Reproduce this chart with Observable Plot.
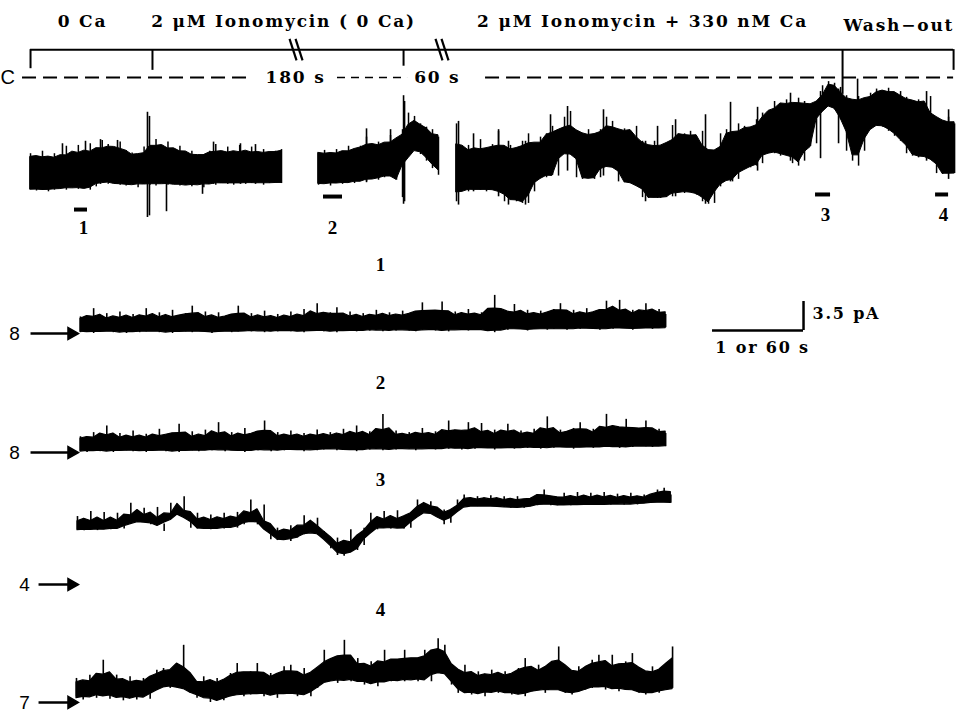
<!DOCTYPE html>
<html><head><meta charset="utf-8">
<script src="https://cdn.jsdelivr.net/npm/d3@7"></script>
<script src="https://cdn.jsdelivr.net/npm/@observablehq/plot@0.6"></script>
<style>html,body{margin:0;padding:0;background:#fff;}#chart{width:956px;height:712px;}</style>
</head><body><div id="chart"></div>
<script>
// ---------------- DATA ----------------
// Top record: current below the closed level C (pA), envelope (upper = smaller amplitude, lower = larger)
const segATop = [9.2,9.7,8.9,9.8,9.2,9.7,8.3,9.3,8.2,9.2,8.0,8.9,7.6,8.1,8.6,7.8,8.8,9.1,9.5,8.4,8.4,7.5,8.4,7.8,8.8,8.3,9.1,8.9,9.5,9.3,8.9,8.1,9.2,8.4,9.2,8.2,9.1,8.4,9.2,8.7,9.1,8.9,8.7];
const segABot = [13.5,13.7,13.5,13.8,13.6,13.4,13.6,13.3,13.5,13.4,13.6,13.2,12.6,12.9,12.8,13.0,13.1,12.9,13.3,12.8,13.0,13.1,12.8,13.0,12.9,13.1,13.0,13.2,12.9,13.3,12.8,13.0,12.7,12.9,13.0,12.7,12.9,12.8,12.7,13.0,12.8,12.7,12.8];
const segBTop = [9.2,8.8,9.3,8.7,9.1,8.3,8.8,8.3,7.2,8.3,7.8,8.1,7.0,7.7,6.3,4.3,4.7,5.6,6.0,6.3,7.2];
const segBBot = [13.0,12.8,13.1,12.7,12.9,12.7,12.8,12.5,12.7,12.2,12.4,12.1,11.8,12.4,14.5,9.2,8.7,9.3,10.1,11.0,11.8];
const segCTop = [5.6,8.9,8.2,8.9,7.5,8.9,8.1,6.5,8.7,8.2,
  8.8,7.7,6.8,8.3,7.2,6.8,5.9,6.8,4.8,4.1,
  6.5,6.9,6.3,7.1,6.3,4.8,5.3,6.5,6.2,6.5,
  5.9,7.7,8.4,7.7,8.4,8.1,5.8,7.1,6.8,6.5,
  7.2,6.5,8.9,9.3,6.8,6.3,6.9,5.6,5.9,6.3,
  5.1,4.3,4.1,2.9,3.3,2.7,3.3,2.5,2.9,3.4,
  2.9,1.0,0.5,0.7,1.2,2.2,2.9,2.3,2.7,1.9,
  1.4,1.7,1.3,1.9,1.7,2.4,2.9,2.7,3.1,2.3,
  5.1,5.3,4.8,5.6];
const segCBot = [15.0,13.5,13.8,13.5,13.6,13.8,13.5,13.8,15.0,14.7,
  15.0,15.2,15.2,13.8,11.9,12.1,11.8,11.9,8.9,8.7,
  12.1,12.3,12.2,12.3,12.1,10.5,10.7,12.6,12.7,12.8,
  13.0,14.5,14.6,14.5,14.6,14.5,14.4,13.8,14.0,13.8,
  14.2,15.0,15.3,15.2,13.2,12.3,12.6,12.3,11.1,10.9,
  10.7,10.4,8.9,9.2,9.5,9.2,10.4,10.7,10.1,8.3,
  8.0,3.5,3.4,3.9,5.1,8.9,10.1,10.7,8.9,6.3,
  5.7,6.0,6.5,7.1,7.7,9.2,9.5,9.7,9.5,9.9,
  11.6,11.7,11.6,11.6];
// display time (units of the scale bar, 60 s) of each top segment: start, end
const segAT = [0.330, 3.088];
const segBT = [3.495, 4.813];
const segCT = [5.011, 10.484];
// brief spikes in the top record
const spikeT  = [0.681,0.934,1.099,1.286,1.615,1.637,1.824,2.220,2.341,2.637,2.802,4.022,4.286,4.429,4.440,5.033,5.198,5.473,5.582,5.769,6.044,6.231,6.626,7.088,7.220,7.418,7.747,8.022,8.319,8.681,9.011,9.209,9.418,10.176,10.418];
const spikeHi = [8.0,7.7,7.5,7.6,4.2,4.7,11.9,12.6,7.8,8.0,8.1,6.2,6.3,2.2,2.9,5.3,6.8,6.3,7.7,7.7,4.5,3.5,3.9,7.7,5.9,5.1,4.5,3.0,3.6,1.9,1.7,1.4,0.2,1.7,3.9];
const spikeLo = [13.2,13.2,12.9,12.9,16.9,16.7,16.2,14.1,12.9,12.9,12.9,12.6,11.9,15.3,15.0,15.4,13.8,14.4,15.4,15.4,11.9,11.3,11.9,15.0,14.6,14.4,15.3,12.6,11.3,10.1,9.8,8.0,8.9,10.1,12.3];

// Expanded records 1-4: current above the arrow level (pA), envelope
const trace1Top = [2.0,1.6,3.0,1.7,2.4,1.5,2.6,1.8,2.3,1.6,3.0,1.8,2.5,1.7,2.8,1.6,2.4,3.3,1.8,2.6,1.7,2.5,1.6,2.3,3.3,1.8,2.4,1.7,2.7,1.6,2.3,1.8,2.6,1.7,2.9,1.9,3.6,1.8,2.5,3.1,1.8,2.6,1.9,2.4,1.8,2.8,2.0,2.5,1.9,2.7,2.0,2.6,3.7,2.1,2.7,3.8,2.0,2.6,2.1,2.9,2.0,2.5,2.2,4.6,2.6,2.1,3.5,2.2,2.8,2.1,2.7,2.2,2.9,3.6,2.2,2.8,2.1,3.0,2.2,2.7,3.9,2.3,4.0,2.2,2.8,2.3,3.6,2.4,2.9,2.3];
const trace1Bot = [0.1,0.3,0.0,0.2,0.3,0.1,0.2,0.0,0.3,0.1,0.2,0.3,0.1,0.2,0.0,0.3,0.2,0.1,0.3,0.2,0.0,0.2,0.3,0.1,0.2,0.3,0.2,0.4,0.1,0.3,0.2,0.4,0.2,0.3,0.1,0.3,0.4,0.2,0.3,0.1,0.4,0.3,0.2,0.4,0.3,0.5,0.2,0.4,0.3,0.5,0.3,0.2,0.4,0.5,0.3,0.4,0.2,0.5,0.4,0.3,0.5,0.4,0.3,0.1,0.5,0.4,0.6,0.5,0.3,0.5,0.6,0.4,0.5,0.6,0.4,0.6,0.5,0.7,0.5,0.4,0.6,0.5,0.7,0.6,0.4,0.6,0.7,0.5,0.6,0.7];
const trace2Top = [1.9,1.5,2.4,1.6,3.2,1.7,2.3,1.5,2.6,1.6,2.2,1.7,2.8,1.6,2.3,3.4,1.7,2.5,1.6,2.7,1.8,3.6,1.7,2.4,1.8,2.9,1.7,2.5,3.8,1.9,2.4,1.7,2.6,1.8,2.3,1.7,2.7,1.8,2.4,1.9,2.8,1.8,3.2,2.0,2.5,1.9,4.6,2.0,2.6,1.9,2.4,2.0,2.9,1.9,2.5,2.1,3.8,2.0,2.6,3.6,2.1,3.5,2.0,2.7,2.1,3.4,2.2,2.6,2.0,2.8,2.1,4.3,2.2,2.7,2.1,2.9,3.6,2.2,2.8,2.3,4.6,2.4,3.0,4.0,2.3,2.9,3.8,2.4,2.8,2.3];
const trace2Bot = [0.2,0.0,0.3,0.1,0.2,0.0,0.3,0.2,0.1,0.3,0.0,0.2,0.3,0.1,0.2,0.0,0.3,0.2,0.1,0.3,0.2,0.4,0.1,0.3,0.2,0.0,0.3,0.2,0.4,0.1,0.3,0.2,0.4,0.3,0.1,0.4,0.2,0.3,0.5,0.2,0.4,0.3,0.1,0.4,0.3,0.5,0.2,0.4,0.3,0.5,0.4,0.2,0.5,0.4,0.3,0.5,0.4,0.6,0.3,0.5,0.4,0.6,0.5,0.3,0.6,0.5,0.4,0.6,0.5,0.7,0.4,0.6,0.5,0.7,0.6,0.4,0.7,0.6,0.5,0.7,0.6,0.8,0.5,0.7,0.6,0.8,0.7,0.6,0.8,0.7];
const trace3Top = [8.2,7.2,8.8,7.2,8.7,7.3,8.6,7.4,9.8,8.3,9.2,7.9,9.3,7.3,9.8,9.1,10.6,7.6,8.6,7.5,8.4,7.6,8.6,7.6,8.7,8.0,10.2,8.0,9.6,6.1,6.8,6.2,7.1,6.3,8.3,7.1,8.0,6.4,5.3,5.6,4.2,6.6,4.9,6.8,8.6,7.4,8.8,7.5,8.9,7.5,8.7,10.2,9.5,10.0,9.0,9.0,8.2,10.2,10.8,10.1,10.6,10.1,10.7,10.1,10.6,10.0,10.6,10.0,10.4,10.8,11.4,10.3,10.4,11.0,10.2,11.1,10.3,11.0,10.3,11.1,10.3,10.9,10.3,11.0,10.3,10.8,10.5,11.4,11.6,10.8];
const trace3Bot = [6.6,6.5,6.7,6.5,6.7,6.6,6.8,6.7,7.4,7.6,7.5,7.2,7.4,6.4,8.2,8.4,8.6,6.8,6.7,6.8,6.6,6.8,6.7,6.9,6.8,7.2,8.0,7.2,7.0,5.4,5.3,5.5,5.2,5.6,6.0,6.4,6.0,5.6,4.3,3.5,3.4,3.9,4.1,4.7,6.8,6.6,6.9,6.7,6.8,6.7,6.8,8.4,8.7,8.6,8.2,7.2,7.4,9.0,9.4,9.4,9.4,9.4,9.4,9.4,9.3,9.2,9.3,9.2,9.4,9.5,9.8,9.5,9.5,9.6,9.5,9.6,9.6,9.6,9.6,9.6,9.6,9.7,9.6,9.7,9.6,9.8,9.8,9.9,9.9,9.8];
const trace4Top = [2.9,2.1,3.3,2.5,5.1,2.9,3.3,2.3,3.1,2.1,2.9,2.7,3.9,4.1,3.5,4.3,6.9,2.5,2.1,3.1,2.3,2.9,2.1,3.5,4.7,2.9,3.7,4.7,2.9,3.5,2.9,4.3,4.5,2.9,4.1,2.9,4.1,6.3,4.5,5.3,7.5,4.7,5.3,4.1,4.9,4.1,6.3,4.5,5.1,6.3,4.7,5.3,6.3,5.3,7.7,6.9,4.5,3.3,4.5,3.1,3.7,2.9,3.9,3.3,3.7,2.9,4.1,5.3,3.5,4.5,3.7,4.9,6.7,4.1,3.3,4.3,3.7,5.1,5.7,4.1,5.7,3.7,4.9,5.9,3.9,3.3,4.3,3.5,4.3,6.7];
const trace4Bot = [0.7,0.3,0.9,0.5,1.1,0.4,0.9,0.2,0.7,0.3,0.9,0.4,1.5,2.1,1.7,1.9,1.7,1.1,0.5,0.9,0.0,0.3,0.2,0.7,1.1,0.7,0.9,1.3,0.7,1.1,0.5,1.3,1.1,0.7,1.1,0.7,1.7,2.5,2.7,2.3,2.9,2.5,2.7,2.1,2.5,1.9,2.7,2.5,2.7,2.5,2.9,2.5,2.9,2.5,4.1,3.7,2.1,1.1,1.3,0.9,1.3,0.7,1.5,1.1,1.3,0.9,1.1,0.7,1.3,1.7,1.1,1.7,1.5,1.1,0.9,1.3,1.5,1.7,2.1,1.5,1.9,1.3,1.7,1.5,1.1,0.9,1.3,1.1,1.5,1.7];
const traceDuration = [6.43, 6.43, 6.52, 6.55]; // s
const channelCounts = ["8", "8", "4", "7"];
const recordLabels = ["1", "2", "3", "4"];
const headerText = ["0 Ca", "2 μM Ionomycin ( 0 Ca)", "2 μM Ionomycin + 330 nM Ca", "Wash−out"];
const gapText = ["180 s", "60 s"];
const scaleTime = 1;      // s (60 s for top record)
const scaleCurrent = 3.5; // pA
const scaleText = ["3.5 pA", "1 or 60 s"];

// ---------------- LAYOUT ----------------
const C_LEVEL = 76.64;                    // closed level of top record
const detailLevel = [45.74, 31.38, 15.45, 1.21];
const detailStart = [0.879, 0.879, 0.846, 0.835];
const LABEL = "'DejaVu Serif', 'Liberation Serif', serif";
const SERIF = "'Liberation Serif', 'DejaVu Serif', serif";
const SANS = "'Liberation Sans', Arial, sans-serif";

// solid core of a noisy record, drawn between the sample's own envelope and its neighbours'
function withCore(rows, w) {
  return rows.map((r, i) => {
    const nb = rows.slice(Math.max(0, i - 1), i + 2).filter(q => q.g === r.g);
    const mU = Math.min(...nb.map(q => q.upper)), aU = d3.mean(nb, q => q.upper);
    const mL = Math.max(...nb.map(q => q.lower)), aL = d3.mean(nb, q => q.lower);
    return {...r, coreUpper: w * mU + (1 - w) * aU, coreLower: w * mL + (1 - w) * aL};
  });
}
function envelope(t0, t1, hi, lo, g) {
  const n = hi.length;
  return hi.map((h, i) => ({g, t: t0 + (t1 - t0) * i / (n - 1), upper: C_LEVEL - h, lower: C_LEVEL - lo[i]}));
}
const topRows = withCore([
  ...envelope(segAT[0], segAT[1], segATop, segABot, "A"),
  ...envelope(segBT[0], segBT[1], segBTop, segBBot, "B"),
  ...envelope(segCT[0], segCT[1], segCTop, segCBot, "C")
], 0.5);
const spikeRows = spikeT.map((t, i) => ({t, upper: C_LEVEL - spikeHi[i], lower: C_LEVEL - spikeLo[i]}));

const detailTops = [trace1Top, trace2Top, trace3Top, trace4Top];
const detailBots = [trace1Bot, trace2Bot, trace3Bot, trace4Bot];
const detailRaw = [];
detailTops.forEach((top, k) => {
  const n = top.length, t0 = detailStart[k], d = traceDuration[k];
  top.forEach((v, i) => detailRaw.push({g: k, t: t0 + d * i / (n - 1), upper: detailLevel[k] + v, lower: detailLevel[k] + detailBots[k][i]}));
});
const detailRows = withCore(detailRaw, 0.15);

// bracket
const bracketY = 80.0;
const bracketTicks = [{x: 0.330, y2: 77.7}, {x: 1.670, y2: 77.5}, {x: 4.429, y2: 78.0}, {x: 9.253, y2: 74.6}, {x: 10.473, y2: 77.5}];
const breaks = [3.242, 4.846].flatMap(x => [
  {x1: x - 0.066, x2: x + 0.011, y1: 81.3, y2: 78.7},
  {x1: x + 0.0, x2: x + 0.077, y1: 81.3, y2: 78.7}
]);
const markers = [
  {x1: 0.813, x2: 0.956, y: 60.70, lx: 0.912, ly: 58.5},
  {x1: 3.549, x2: 3.758, y: 62.27, lx: 3.648, ly: 58.5},
  {x1: 8.956, x2: 9.121, y: 62.52, lx: 9.066, ly: 60.1},
  {x1: 10.275, x2: 10.418, y: 62.52, lx: 10.363, ly: 60.1}
].map((m, i) => ({...m, label: recordLabels[i]}));
const detailLabelY = [54.07, 39.83, 28.12, 12.43];
const detailLabels = recordLabels.map((s, i) => ({s, x: 4.176, y: detailLabelY[i]}));
const arrows = channelCounts.map((c, i) => ({c, nx: i < 2 ? 0.154 : 0.264, x1: i < 2 ? 0.33 : 0.418, x2: 0.78, y: detailLevel[i]}));
const sb = {x0: 7.824, y0: 46.10};
const boldText = {fontFamily: LABEL, fontWeight: "bold", fill: "black"};

const chart = Plot.plot({
  width: 956, height: 712,
  marginTop: 0, marginRight: 0, marginBottom: 0, marginLeft: 0,
  x: {domain: [0, 10.505], axis: null},
  y: {domain: [0, 85.93], axis: null},
  style: {background: "#fff"},
  marks: [
    // header texts
    Plot.text(headerText.slice(0, 3), {x: [0.901, 3.11, 7.055], y: 83.4, text: d => d, fontSize: 17, ...boldText}),
    Plot.text([headerText[3]], {x: 10.48, y: 82.9, text: d => d, textAnchor: "end", fontSize: 17, ...boldText}),
    // bracket
    Plot.ruleY([bracketY], {x1: 0.330, x2: 10.473, stroke: "black", strokeWidth: 2}),
    Plot.ruleX(bracketTicks, {x: "x", y1: bracketY, y2: "y2", stroke: "black", strokeWidth: 2}),
    Plot.link(breaks, {x1: "x1", y1: "y1", x2: "x2", y2: "y2", stroke: "black", strokeWidth: 2.2}),
    // closed level
    Plot.text(["C"], {x: 0.08, y: C_LEVEL, text: d => d, fontFamily: SANS, fontSize: 20, fill: "black"}),
    Plot.ruleY([{x1: 0.242, x2: 2.747}, {x1: 5.330, x2: 10.473}], {x1: "x1", x2: "x2", y: C_LEVEL, stroke: "black", strokeWidth: 2, strokeDasharray: "14,7"}),
    Plot.ruleY([{x1: 3.703, x2: 4.473}], {x1: "x1", x2: "x2", y: C_LEVEL, stroke: "black", strokeWidth: 1.6, strokeDasharray: "8,6"}),
    Plot.text(gapText, {x: [3.242, 4.80], y: C_LEVEL, text: d => d, fontSize: 17, ...boldText}),
    // top record: solid core + hairs to the sampled extremes + brief spikes
    Plot.areaY(topRows, {x: "t", y1: "coreLower", y2: "coreUpper", z: "g", fill: "black", stroke: "black", strokeWidth: 1}),
    Plot.ruleX(topRows, {x: "t", y1: "lower", y2: "upper", stroke: "black", strokeWidth: 1.5}),
    Plot.ruleX(spikeRows, {x: "t", y1: "lower", y2: "upper", stroke: "black", strokeWidth: 1.6}),
    // marker bars and labels
    Plot.ruleY(markers, {x1: "x1", x2: "x2", y: "y", stroke: "black", strokeWidth: 4}),
    Plot.text(markers, {x: "lx", y: "ly", text: "label", fontFamily: SERIF, fontWeight: "bold", fontSize: 19, fill: "black"}),
    // expanded records
    Plot.areaY(detailRows, {x: "t", y1: "coreLower", y2: "coreUpper", z: "g", fill: "black", stroke: "black", strokeWidth: 1.2}),
    Plot.ruleX(detailRows, {x: "t", y1: "lower", y2: "upper", stroke: "black", strokeWidth: 1.6}),
    Plot.text(detailLabels, {x: "x", y: "y", text: "s", fontFamily: SERIF, fontWeight: "bold", fontSize: 19, fill: "black"}),
    Plot.text(arrows, {x: "nx", y: "y", text: "c", fontFamily: SANS, fontSize: 19, fill: "black"}),
    Plot.link(arrows, {x1: "x1", x2: "x2", y1: "y", y2: "y", stroke: "black", strokeWidth: 2.4}),
    Plot.dot(arrows, {x: "x2", y: "y", symbol: "triangle", rotate: 90, r: 4.5, fill: "black", stroke: "black"}),
    // scale bar
    Plot.ruleY([sb], {x1: "x0", x2: d => d.x0 + scaleTime, y: "y0", stroke: "black", strokeWidth: 2.5}),
    Plot.ruleX([sb], {x: d => d.x0 + scaleTime, y1: "y0", y2: d => d.y0 + scaleCurrent, stroke: "black", strokeWidth: 2.5}),
    Plot.text([scaleText[0]], {x: 8.923, y: 48.1, text: d => d, textAnchor: "start", fontSize: 16, ...boldText}),
    Plot.text([scaleText[1]], {x: 8.374, y: 44.0, text: d => d, fontSize: 16, ...boldText})
  ]
});
// typewriter-like spacing for the bold labels
d3.select(chart).selectAll('g[aria-label="text"]')
  .filter(function () { return (this.getAttribute("font-family") || "").startsWith("'DejaVu Serif'"); })
  .attr("letter-spacing", 1.8);
document.getElementById("chart").appendChild(chart);
</script></body></html>
